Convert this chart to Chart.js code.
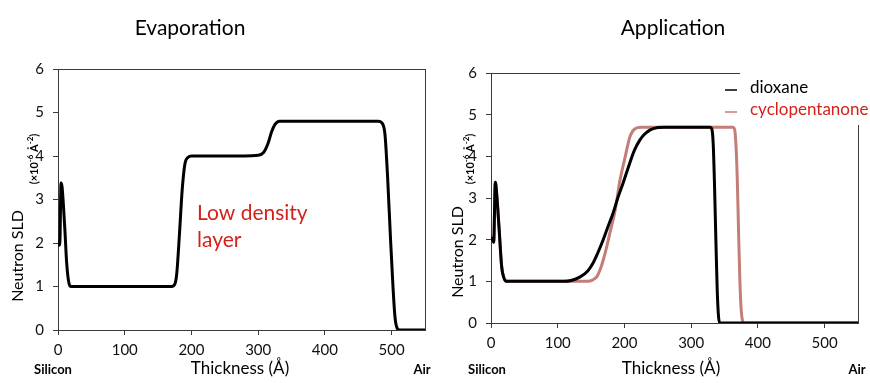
<!DOCTYPE html>
<html>
<head>
<meta charset="utf-8">
<script src="https://cdn.jsdelivr.net/npm/chart.js@4/dist/chart.umd.min.js"></script>
<style>
  body { margin: 0; background: #fff; }
  .row { display: flex; width: 870px; height: 383px; }
  canvas { display: block; }
</style>
</head>
<body>
<div class="row">
  <canvas id="evapChart" width="435" height="383"></canvas>
  <canvas id="applChart" width="435" height="383"></canvas>
</div>
<script>
// Neutron SLD profiles (x = thickness in Å, y = SLD x10^-6 Å^-2)
const panelTitles = ['Evaporation', 'Application'];
const seriesNames = ['dioxane', 'cyclopentanone'];
const xTicks = [0, 100, 200, 300, 400, 500];
const yTicks = [0, 1, 2, 3, 4, 5, 6];

const evapThickness = [0, 2, 3, 4.5, 6, 8, 10.5, 13, 16.5, 19.5, 100, 170, 175, 178, 182, 186, 190, 195, 200, 250, 300, 308, 315, 320, 325, 332, 340, 420, 480, 486, 490, 494, 498, 502, 505, 508, 512, 530, 550];
const evapSLD       = [2.0, 1.95, 2.1, 3.38, 3.3, 2.9, 2.25, 1.54, 1.07, 1.0, 1.0, 1.0, 1.05, 1.3, 2.2, 3.2, 3.8, 3.97, 4.0, 4.0, 4.02, 4.08, 4.3, 4.55, 4.72, 4.8, 4.8, 4.8, 4.8, 4.75, 4.5, 3.5, 2.2, 1.0, 0.3, 0.05, 0, 0, 0];

const dioxaneThickness = [0, 2, 4, 6.5, 8.5, 12, 16, 19, 23, 60, 110, 120, 133, 145, 153, 160, 168, 175, 183, 190, 198, 208, 215, 223, 230, 238, 250, 260, 300, 328, 331, 333, 335, 337, 339, 341, 343, 400, 550];
const dioxaneSLD       = [2.05, 2.0, 1.94, 3.38, 3.1, 2.3, 1.35, 1.1, 1.0, 1.0, 1.0, 1.02, 1.1, 1.25, 1.44, 1.68, 1.99, 2.3, 2.64, 3.0, 3.36, 3.84, 4.15, 4.39, 4.53, 4.63, 4.69, 4.7, 4.7, 4.7, 4.65, 4.3, 3.3, 2.0, 0.8, 0.15, 0, 0, 0];

const cycloThickness = [0, 2, 4, 6.5, 8.5, 12, 16, 19, 23, 80, 145, 152, 159, 164, 168, 173, 178, 186, 193, 201, 208, 213, 218, 225, 300, 362, 365, 367, 369, 371, 373, 375, 377, 379, 450, 550];
const cycloSLD       = [2.05, 2.0, 1.94, 3.38, 3.1, 2.3, 1.35, 1.1, 1.0, 1.0, 1.0, 1.03, 1.12, 1.3, 1.5, 1.8, 2.15, 2.7, 3.4, 3.98, 4.46, 4.62, 4.68, 4.7, 4.7, 4.7, 4.65, 4.3, 3.5, 2.2, 1.0, 0.3, 0.05, 0, 0, 0];

const FONT = 'Lato';
const AXIS_COLOR = '#3a3a3a';
const PINK = 'rgb(196, 126, 120)';
const RED_TEXT = '#d4221a';

function toPoints(xs, ys) {
  return xs.map((x, i) => ({ x: x, y: ys[i] }));
}

function lineDataset(label, xs, ys, color) {
  return {
    label: label,
    data: toPoints(xs, ys),
    borderColor: color,
    backgroundColor: color,
    borderWidth: 3,
    pointRadius: 0,
    fill: false,
    cubicInterpolationMode: 'monotone',
    borderCapStyle: 'round',
    borderJoinStyle: 'round'
  };
}

// "(×10-6 Å-2)" with raised exponents, drawn centred on the current origin
function drawUnit(ctx) {
  const big = 'bold 11px ' + FONT;
  const small = 'bold 8px ' + FONT;
  const parts = [
    { t: '(×10', f: big, dy: 0 },
    { t: '-6', f: small, dy: -4 },
    { t: ' Å', f: big, dy: 0 },
    { t: '-2', f: small, dy: -4 },
    { t: ')', f: big, dy: 0 }
  ];
  let total = 0;
  parts.forEach(p => { ctx.font = p.f; p.w = ctx.measureText(p.t).width; total += p.w; });
  let x = -total / 2;
  ctx.textAlign = 'left';
  parts.forEach(p => {
    ctx.font = p.f;
    ctx.fillText(p.t, x, p.dy);
    x += p.w;
  });
}

// Draws the frame, titles, axis captions and any extra text for one panel
function panelPlugin(cfg) {
  return {
    id: 'panelText',
    afterDraw(chart) {
      const ctx = chart.ctx;
      const a = chart.chartArea;
      ctx.save();

      // frame (top + right)
      ctx.strokeStyle = AXIS_COLOR;
      ctx.lineWidth = 1;
      ctx.beginPath();
      ctx.moveTo(a.left, a.top + 0.5);
      ctx.lineTo(cfg.frameTopEnd || a.right, a.top + 0.5);
      ctx.moveTo(a.right + 0.5, cfg.frameRightStart || a.top);
      ctx.lineTo(a.right + 0.5, a.bottom);
      ctx.stroke();

      ctx.fillStyle = '#000';
      ctx.textBaseline = 'middle';
      ctx.textAlign = 'center';

      // panel title
      ctx.font = '21px ' + FONT;
      ctx.fillText(cfg.title, cfg.titleX, 28);

      // x caption row
      ctx.font = '17px ' + FONT;
      ctx.fillText('Thickness (Å)', cfg.xTitleX, 369);
      ctx.font = 'bold 13px ' + FONT;
      ctx.fillText('Silicon', cfg.siliconX, 370);
      ctx.fillText('Air', cfg.airX, 370);

      // y caption (rotated)
      ctx.save();
      ctx.translate(cfg.yTitleX, cfg.yTitleY);
      ctx.rotate(-Math.PI / 2);
      ctx.font = '16px ' + FONT;
      ctx.fillText('Neutron SLD', 0, 0);
      ctx.restore();

      ctx.save();
      ctx.translate(cfg.yUnitX, 159);
      ctx.rotate(-Math.PI / 2);
      drawUnit(ctx);
      ctx.restore();

      if (cfg.extra) cfg.extra(ctx, chart);
      ctx.restore();
    }
  };
}

function makeChart(canvasId, datasets, layout, cfg) {
  const canvas = document.getElementById(canvasId);
  if (!canvas) return null;
  const ctx = canvas.getContext('2d');

  return new Chart(ctx, {
    type: 'line',
    data: { datasets: datasets },
    options: {
      responsive: false,
      animation: false,
      events: [],
      layout: { padding: { top: layout.top, right: layout.right, left: 0, bottom: 0 } },
      plugins: {
        legend: { display: false },
        tooltip: { enabled: false }
      },
      scales: {
        x: {
          type: 'linear',
          min: 0,
          max: 550,
          afterFit: function(scale) { scale.height = layout.xHeight; },
          afterBuildTicks: function(scale) { scale.ticks = xTicks.map(v => ({ value: v })); },
          border: { display: true, color: AXIS_COLOR, width: 1 },
          grid: { drawOnChartArea: false, drawTicks: true, tickLength: 5, color: AXIS_COLOR },
          ticks: {
            color: '#111',
            padding: 6,
            maxRotation: 0,
            font: { family: FONT, size: 15 }
          }
        },
        y: {
          type: 'linear',
          min: 0,
          max: 6,
          afterFit: function(scale) { scale.width = layout.yWidth; },
          afterBuildTicks: function(scale) { scale.ticks = yTicks.map(v => ({ value: v })); },
          border: { display: true, color: AXIS_COLOR, width: 1 },
          grid: { drawOnChartArea: false, drawTicks: true, tickLength: 5, color: AXIS_COLOR },
          ticks: {
            color: '#111',
            padding: 9,
            font: { family: FONT, size: 15 }
          }
        }
      }
    },
    plugins: [panelPlugin(cfg)]
  });
}

// Left panel: evaporation
makeChart('evapChart',
  [lineDataset('Evaporation', evapThickness, evapSLD, '#000')],
  { top: 69, right: 10, xHeight: 53, yWidth: 58 },
  {
    title: panelTitles[0], titleX: 190,
    xTitleX: 240, siliconX: 53, airX: 422,
    yTitleX: 18, yTitleY: 256, yUnitX: 34,
    extra: function(ctx) {
      ctx.fillStyle = RED_TEXT;
      ctx.textAlign = 'left';
      ctx.textBaseline = 'alphabetic';
      ctx.font = '21px ' + FONT;
      ctx.fillText('Low density', 197, 220);
      ctx.fillText('layer', 197, 247);
    }
  });

// Right panel: application, two solvents
makeChart('applChart',
  [
    lineDataset(seriesNames[0], dioxaneThickness, dioxaneSLD, '#000'),
    lineDataset(seriesNames[1], cycloThickness, cycloSLD, PINK)
  ],
  { top: 73, right: 12, xHeight: 60, yWidth: 56 },
  {
    title: panelTitles[1], titleX: 238,
    xTitleX: 236, siliconX: 52, airX: 422,
    yTitleX: 23, yTitleY: 252, yUnitX: 35,
    frameTopEnd: 305, frameRightStart: 125,
    extra: function(ctx, chart) {
      // legend
      const rows = [88, 110];
      const colors = ['#000', RED_TEXT];
      ctx.textAlign = 'left';
      ctx.font = '17px ' + FONT;
      chart.data.datasets.forEach((ds, i) => {
        ctx.strokeStyle = ds.borderColor;
        ctx.lineWidth = 1.5;
        ctx.beginPath();
        ctx.moveTo(290, rows[i] + 2);
        ctx.lineTo(302, rows[i] + 2);
        ctx.stroke();
        ctx.fillStyle = colors[i];
        ctx.fillText(ds.label, 315, rows[i]);
      });
    }
  });
</script>
</body>
</html>
